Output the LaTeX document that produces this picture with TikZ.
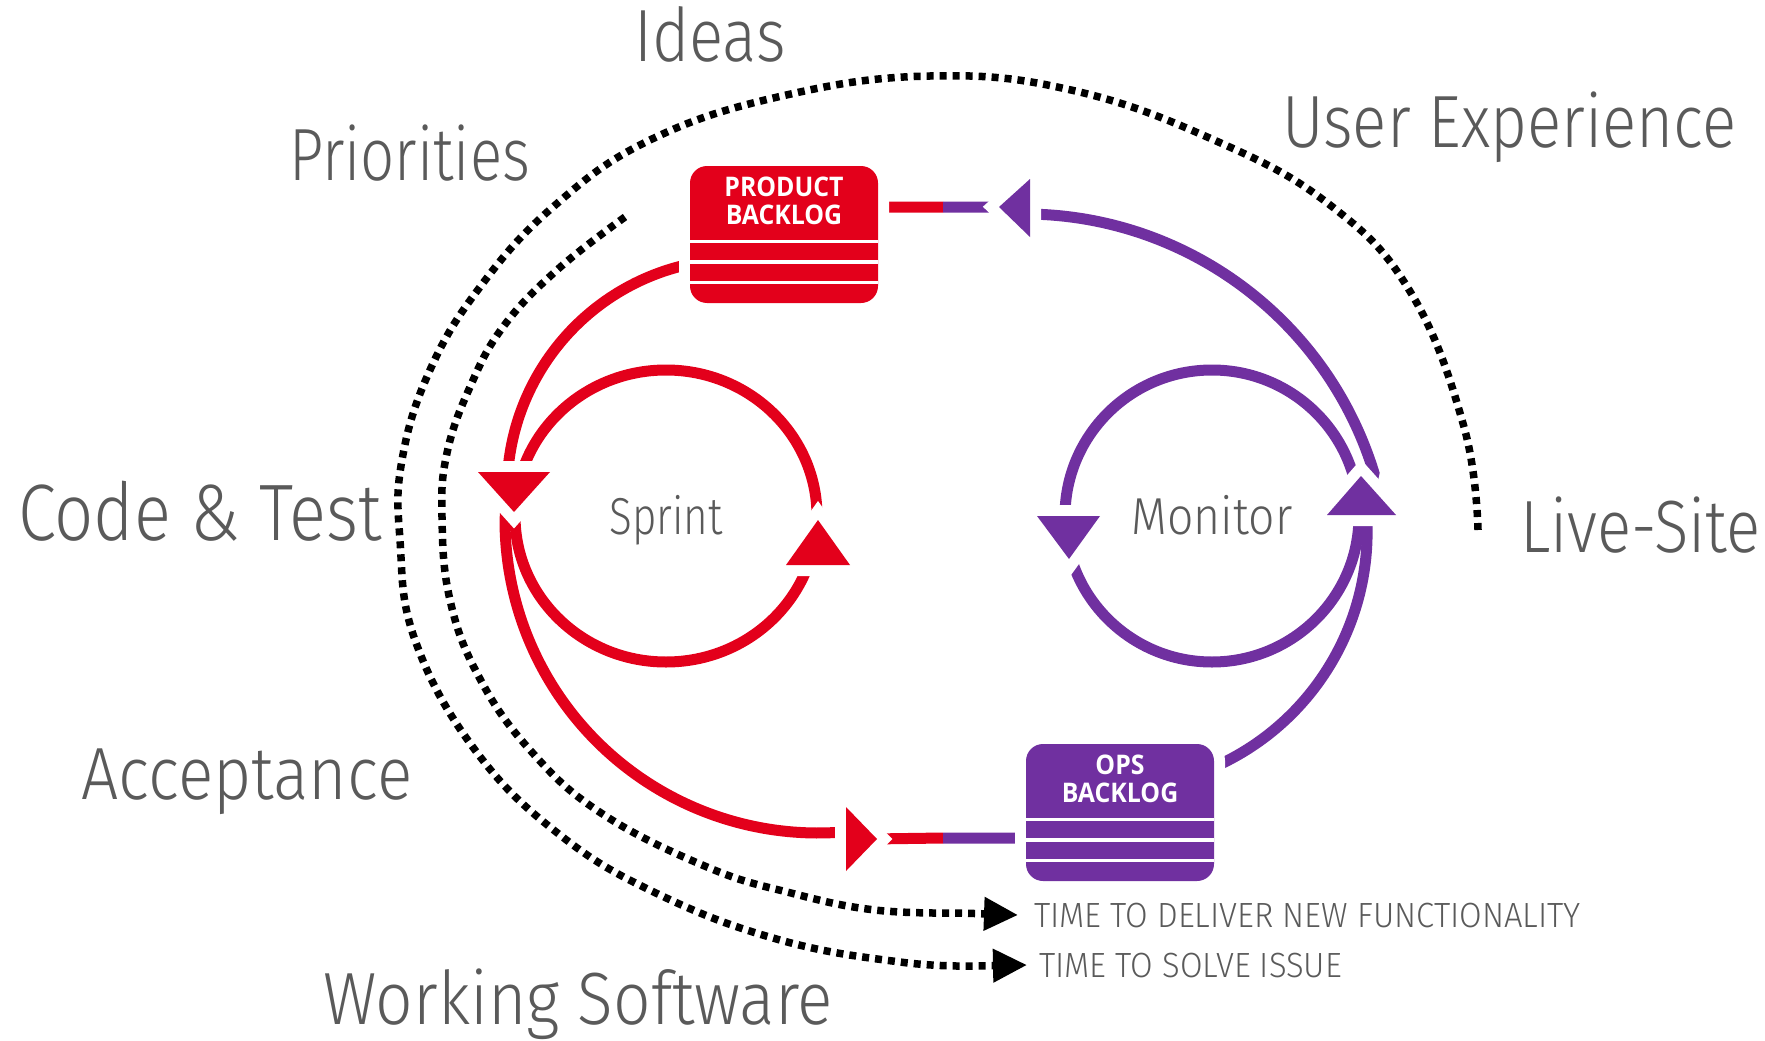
\documentclass[tikz,border=0pt]{standalone}
\usepackage{fontspec}
\usepackage{xcolor}
\usepackage{tikz}
\usetikzlibrary{calc}
\usetikzlibrary{arrows.meta}
\usetikzlibrary{shapes.geometric}
\usetikzlibrary{backgrounds}
\IfFontExistsTF{Fira Sans Light}
 {\newfontfamily\lightfont[FakeStretch=0.86]{Fira Sans Light}
  \newfontfamily\lightnarrow[FakeStretch=0.81]{Fira Sans Light}
  \newfontfamily\lightwide[FakeStretch=0.89]{Fira Sans Light}
  \newfontfamily\lightcaps[FakeStretch=0.935]{Fira Sans Light}}
 {\newfontfamily\lightfont[FakeStretch=0.86]{Open Sans}
  \newfontfamily\lightnarrow[FakeStretch=0.81]{Open Sans}
  \newfontfamily\lightwide[FakeStretch=0.89]{Open Sans}
  \newfontfamily\lightcaps[FakeStretch=0.88]{Open Sans}}
\newfontfamily\boxfont[FakeStretch=0.92]{Open Sans}

\definecolor{devred}{HTML}{E3001B}
\definecolor{opspurple}{HTML}{7030A0}
\definecolor{labelgray}{HTML}{5A5A5A}

\newcommand{\flowtip}[4]{%
\filldraw[white,line width=22pt,line join=miter] #2 -- #3 -- #4 -- cycle;
\fill[#1] #2 -- #3 -- #4 -- cycle;}

\begin{document}
\begin{tikzpicture}[x=1pt,y=-1pt,
  flow/.style={line width=11pt},
  dots/.style={line width=7.5pt,dash pattern=on 7pt off 6pt,-{Triangle[length=34pt,width=32pt]}},
  loopnode/.style={ellipse,draw,line width=11pt,inner sep=0pt,text height=36pt,text depth=0pt,text=labelgray},
  backlog/.style={rectangle,rounded corners=17pt,minimum width=188pt,minimum height=137pt,inner sep=0pt,preaction={draw=white,line width=22pt}},
  boxtitle/.style={text=white,align=center,inner sep=0pt,font=\boxfont\bfseries\fontsize{27}{28}\selectfont},
  biglabel/.style={text=labelgray,inner sep=0pt,anchor=base west,font=\lightfont\fontsize{74}{80}\selectfont},
  timelabel/.style={text=labelgray,inner sep=0pt,anchor=base west,font=\lightcaps\fontsize{35}{40}\selectfont}]
\useasboundingbox (0,0) rectangle (1765,1041);

\node[biglabel] (ideas) at (634,62) {Ideas};
\node[biglabel,font=\lightnarrow\fontsize{74}{80}\selectfont] (priorities) at (289,180) {Priorities};
\node[biglabel] (userexp) at (1282,147) {User Experience};
\node[biglabel,font=\lightfont\fontsize{80}{86}\selectfont] (codetest) at (18,540) {Code \& Test};
\node[biglabel] (livesite) at (1520,552) {Live-Site};
\node[biglabel,font=\lightwide\fontsize{74}{80}\selectfont] (acceptance) at (81,799) {Acceptance};
\node[biglabel,font=\lightwide\fontsize{74}{80}\selectfont] (working) at (323,1024) {Working Software};
\node[timelabel] (deliver) at (1034,927) {TIME TO DELIVER NEW FUNCTIONALITY};
\node[timelabel] (solve) at (1039,977) {TIME TO SOLVE ISSUE};

\draw[dots] plot[smooth,tension=0.7] coordinates {(625,217) (557,270) (503,327) (470,387) (447,453) (442,517) (450,600) (479,677) (530,750) (601,813) (707,867) (791,893) (875,910) (960,913)} -- ([xshift=-16pt]deliver.west);
\draw[dots] plot[smooth,tension=0.7] coordinates {(1478,530) (1464,427) (1411,293) (1330,205) (1214,140) (1071,90) (930,76) (782,96) (650,140) (553,207) (480,287) (430,370) (402,460) (400,540) (415,640) (475,750) (560,835) (660,895) (780,940) (900,962) (975,966)} -- ([xshift=-12pt]solve.west);

\node[loopnode,draw=devred,minimum width=302pt,minimum height=292pt,font=\lightnarrow\fontsize{52}{60}\selectfont] (sprint) at (666,516) {Sprint};
\node[loopnode,draw=opspurple,minimum width=294pt,minimum height=292pt,font=\lightwide\fontsize{52}{60}\selectfont] (monitor) at (1212,516) {Monitor};

\node[backlog,fill=devred] (pb) at (784,234.5) {};
\node[backlog,fill=opspurple] (ob) at (1120,812.5) {};
\foreach \d in {75.5,96,116.5} {
  \draw[white,line width=3.5pt] ([yshift=-\d]pb.north west) -- ([yshift=-\d]pb.north east);
  \draw[white,line width=3.5pt] ([yshift=-\d]ob.north west) -- ([yshift=-\d]ob.north east);
}
\node[boxtitle] (pbtitle) at (784,200.5) {PRODUCT\\BACKLOG};
\node[boxtitle] (obtitle) at (1120,779) {OPS\\BACKLOG};

\coordinate (midtop) at (943,207);
\coordinate (midbot) at (943,838);
\begin{scope}[on background layer]
\draw[flow,devred] (midtop) -- (pb.east |- midtop) -- (698,262.5)
  arc[start angle=-100,end angle=-180,radius=231] -- (505,520)
  arc[start angle=180,end angle=86,radius=313] -- (872,839) -- (midbot);
\draw[flow,opspurple] (midbot) -- (ob.west |- midbot) -- (1198,773.5)
  arc[start angle=70,end angle=-5,radius=257] -- (1374,473)
  arc[start angle=-17,end angle=-92,radius=366] -- (990,207) -- (midtop);
\end{scope}

\flowtip{opspurple}{(999,207)}{(1030,179)}{(1030,237)}
\flowtip{devred}{(877,839)}{(846,807)}{(846,871)}
\flowtip{devred}{(514,512)}{(478,472)}{(550,472)}
\flowtip{devred}{(818,520)}{(786,565)}{(850,565)}
\flowtip{opspurple}{(1069,559)}{(1037,516)}{(1100,516)}
\flowtip{opspurple}{(1361,476)}{(1327,515)}{(1396,515)}
\end{tikzpicture}
\end{document}
